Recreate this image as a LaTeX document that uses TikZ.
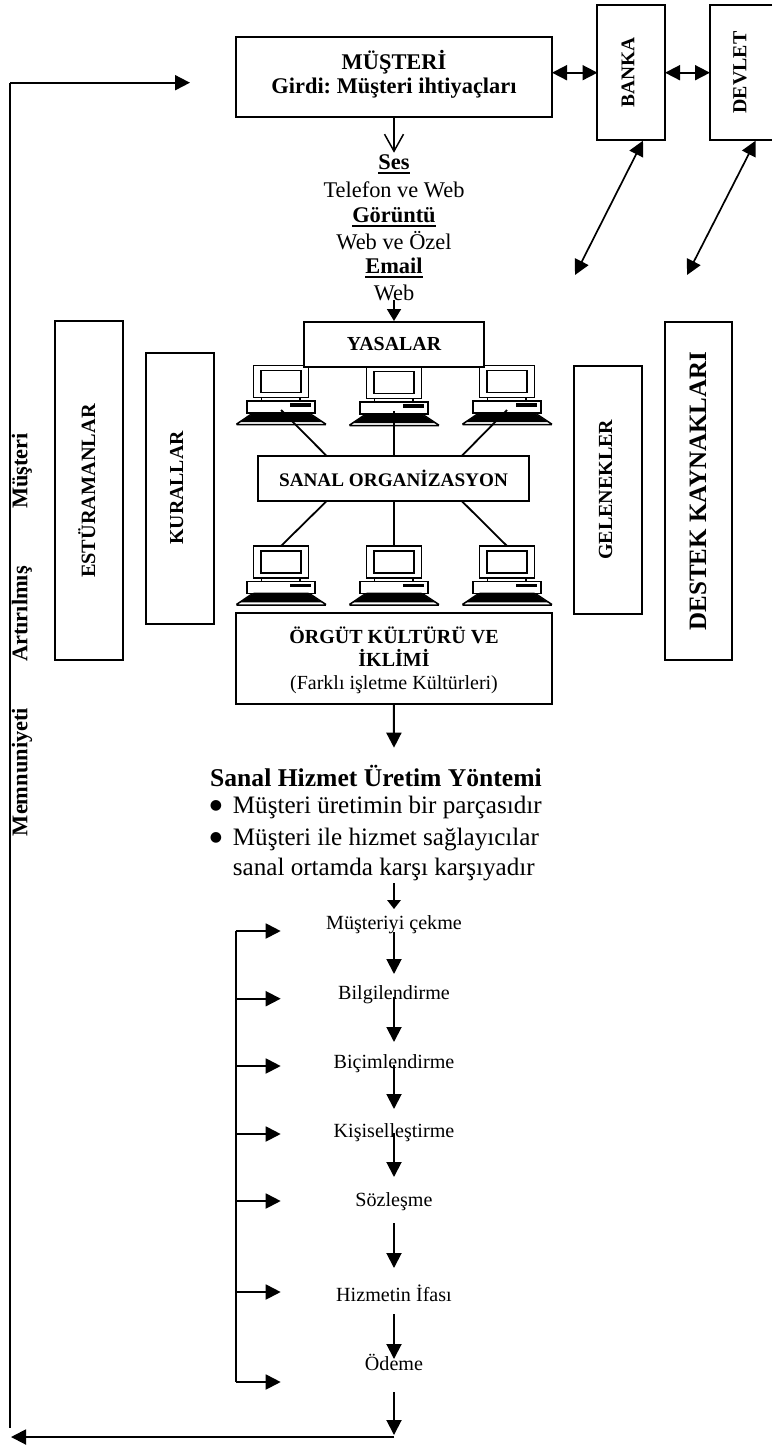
\documentclass[tikz,border=0pt]{standalone}
\usepackage{fontspec}
\setmainfont{Liberation Serif}
\newfontfamily\symfont{DejaVu Sans}
\usetikzlibrary{arrows.meta}
\newcommand{\fz}[1]{\fontsize{#1}{#1}\selectfont}
\newcommand{\ub}[1]{\leavevmode\vtop{\hbox{#1}\kern2.2pt\hrule height 1.9pt}}
\tikzset{
  box/.style={draw=black,line width=2pt,fill=white,inner sep=0pt,align=center},
  lbl/.style={inner sep=0pt,align=center,yshift=-2.5pt},
  vlbl/.style={inner sep=0pt,rotate=90,font=\bfseries},
  link/.style={line width=1.8pt,line cap=butt},
  arr/.style={line width=1.9pt,-{Triangle[length=15pt,width=15pt]}},
  smallarr/.style={line width=1.9pt,-{Triangle[length=9pt,width=13.5pt]}},
  dblarr/.style={line width=1.7pt,{Triangle[length=15pt,width=15pt]}-{Triangle[length=15pt,width=15pt]}},
  openarr/.style={line width=1.5pt,-{Straight Barb[length=17pt,width=19pt,line width=1.5pt]}},
  computer/.pic={
    \draw[line width=1.5pt] (-27.7,0) rectangle (27.7,32);
    \draw[line width=1.5pt] (-20,5) rectangle (20,27);
    \draw[line width=1.5pt] (-19.3,32) -- (-19.3,35.3) (19,32) -- (19,35.3);
    \draw[line width=1.5pt] (-34,35.3) rectangle (34,47.3);
    \fill (9,37.6) rectangle (30,41);
    \draw[line width=1.5pt,fill=white,rounded corners=1.5pt] (-28,47.3) -- (28,47.3) -- (45.7,59) -- (-45.3,59) -- cycle;
    \fill (-27,47.3) -- (27,47.3) -- (41,56.4) -- (-41,56.4) -- cycle;
    \coordinate (-hook) at (0,44.3);
    \coordinate (-top) at (0,0);
  }
}
\begin{document}
\frenchspacing
\begin{tikzpicture}[x=1pt,y=-1pt]
\useasboundingbox (0,0) rectangle (772,1446);
% computers
\pic (c1) at (281,365.7) {computer};
\pic (c2) at (394,366.7) {computer};
\pic (c3) at (507,365.7) {computer};
\pic (c4) at (281,546) {computer};
\pic (c5) at (394,546) {computer};
\pic (c6) at (507,546) {computer};
% boxes
\node[box,minimum width=316pt,minimum height=80pt] (musteri) at (394,77) {};
\node[lbl,font=\fz{22.4}\bfseries] (musteriA) at (394,60.7) {MÜŞTERİ\strut};
\node[lbl,font=\fz{22.4}\bfseries] (musteriB) at (394,87) {Girdi: Müşteri ihtiyaçları\strut};
\node[box,minimum width=67.5pt,minimum height=135.5pt] (banka) at (631.2,72.5) {};
\node[vlbl,font=\fz{19.4}\bfseries] at (628,72.5) (bankaT) {BANKA};
\node[minimum width=62pt,minimum height=135.5pt,inner sep=0pt] (devlet) at (741,72.5) {};
\draw[line width=2pt] (devlet.north east) -- (devlet.north west) -- (devlet.south west) -- (devlet.south east);
\node[vlbl,font=\fz{19.9}\bfseries] at (740,72.5) (devletT) {DEVLET};
\node[box,minimum width=180.5pt,minimum height=45pt,font=\fz{19.9}\bfseries] (yasalar) at (394,344.5) {YASALAR};
\node[box,minimum width=271pt,minimum height=45pt,font=\fz{19.2}\bfseries] (sanal) at (393.5,478.5) {SANAL ORGANİZASYON};
\node[box,minimum width=67.5pt,minimum height=339pt] (est) at (89.2,490.5) {};
\node[vlbl,font=\fz{20.3}\bfseries] (estT) at (86.7,491) {ESTÜRAMANLAR};
\node[box,minimum width=68pt,minimum height=271pt] (kur) at (179.5,488.5) {};
\node[vlbl,font=\fz{19.8}\bfseries] (kurT) at (176.7,488) {KURALLAR};
\node[box,minimum width=68pt,minimum height=248pt] (gel) at (608,489.8) {};
\node[vlbl,font=\fz{20}\bfseries] (gelT) at (605.7,489.7) {GELENEKLER};
\node[box,minimum width=67.5pt,minimum height=338pt] (destek) at (698.3,491) {};
\node[vlbl,font=\fz{25}\bfseries] (destekT) at (698,491) {DESTEK KAYNAKLARI};
\node[box,minimum width=316pt,minimum height=91pt] (orgut) at (393.8,658.5) {};
\node[lbl,font=\fz{20}\bfseries] (orgutA) at (394,635.7) {ÖRGÜT KÜLTÜRÜ VE\strut};
\node[lbl,font=\fz{20}\bfseries] (orgutB) at (394,658) {İKLİMİ\strut};
\node[lbl,font=\fz{20}] (orgutC) at (394,683) {(Farklı işletme Kültürleri)\strut};
% channel text
\node[lbl,font=\fz{22.4}\bfseries] (t1) at (394,163) {\ub{Ses}\strut};
\node[lbl,font=\fz{22.4}] (t2) at (394,190) {Telefon ve Web\strut};
\node[lbl,font=\fz{22.4}\bfseries] (t3) at (394,216) {\ub{Görüntü}\strut};
\node[lbl,font=\fz{22.4}] (t4) at (394,241) {Web ve Özel\strut};
\node[lbl,font=\fz{22.4}\bfseries] (t5) at (394,267) {\ub{Email}\strut};
\node[lbl,font=\fz{22.4}] (t6) at (394,294) {Web\strut};
% left rotated text
\node[inner sep=0pt,rotate=90,font=\fz{22.4}\bfseries] (m1) at (23,471) {Müşteri\strut};
\node[inner sep=0pt,rotate=90,font=\fz{22.4}\bfseries] (m2) at (23,614) {Artırılmış\strut};
\node[inner sep=0pt,rotate=90,font=\fz{22.4}\bfseries] (m3) at (23,772) {Memnuniyeti\strut};
% method text
\node[lbl,anchor=west,font=\fz{25.6}\bfseries] (h1) at (210,777) {Sanal Hizmet Üretim Yöntemi\strut};
\node[inner sep=0pt,font=\fz{14}\symfont] (b1) at (216,806) {●};
\node[lbl,anchor=west,font=\fz{25.1}] (h2) at (232.7,806) {Müşteri üretimin bir parçasıdır\strut};
\node[inner sep=0pt,font=\fz{14}\symfont] (b2) at (216,838) {●};
\node[lbl,anchor=west,font=\fz{25.1}] (h3) at (232.7,838) {Müşteri ile hizmet sağlayıcılar\strut};
\node[lbl,anchor=west,font=\fz{25.1}] (h4) at (232.7,868) {sanal ortamda karşı karşıyadır\strut};
% steps
\node[lbl,font=\fz{20.1}] (s1) at (394,923) {Müşteriyi çekme\strut};
\node[lbl,font=\fz{20.1}] (s2) at (394,993) {Bilgilendirme\strut};
\node[lbl,font=\fz{20.1}] (s3) at (394,1062) {Biçimlendirme\strut};
\node[lbl,font=\fz{20.1}] (s4) at (394,1131) {Kişiselleştirme\strut};
\node[lbl,font=\fz{20.1}] (s5) at (394,1200) {Sözleşme\strut};
\node[lbl,font=\fz{20.1}] (s6) at (394,1294) {Hizmetin İfası\strut};
\node[lbl,font=\fz{20.1}] (s7) at (394,1363) {Ödeme\strut};
% connector end points
\coordinate (fbTop) at (10,82.7);
\coordinate (fbIn) at (190,82.7);
\coordinate (fbBot) at (10,1428);
\coordinate (retR) at (394,1437);
\coordinate (retL) at (11,1437);
\coordinate (openEnd) at (394,152.7);
\coordinate (yIn1) at (394,300);
\coordinate (mR) at (552,72.7);
\coordinate (bL) at (597.5,72.7);
\coordinate (bR) at (665,72.7);
\coordinate (dL) at (710,72.7);
\coordinate (bT) at (643,140.7);
\coordinate (bB) at (575,275);
\coordinate (dT) at (755.6,140.7);
\coordinate (dB) at (687,275);
\coordinate (oEnd) at (394,747.7);
\coordinate (sanN1) at (326.7,456);
\coordinate (sanN2) at (394,456);
\coordinate (sanN3) at (461.7,456);
\coordinate (sanS1) at (326.7,501);
\coordinate (sanS2) at (394,501);
\coordinate (sanS3) at (461.7,501);
% connectors
\draw[arr] (fbTop) -- (fbIn);
\draw[link] (fbTop) -- (fbBot);
\draw[arr] (retR) -- (retL);
\draw[dblarr] (mR) -- (bL);
\draw[dblarr] (bR) -- (dL);
\draw[dblarr] (bT) -- (bB);
\draw[dblarr] (dT) -- (dB);
\draw[openarr] (musteri.south) -- (openEnd);
\draw[arr,-{Triangle[length=12pt,width=14pt]}] (yIn1) -- (yasalar.north);
\draw[link] (c1-hook) -- (sanN1);
\draw[link] (c2-hook) -- (sanN2);
\draw[link] (c3-hook) -- (sanN3);
\draw[link] (sanS1) -- (c4-top);
\draw[link] (sanS2) -- (c5-top);
\draw[link] (sanS3) -- (c6-top);
\draw[arr] (orgut.south) -- (oEnd);
% flow arrows
\foreach \i/\a/\b in {1/883/909,2/932/974,3/997/1042,4/1065/1109,5/1133/1177,6/1223/1268,7/1314/1359,8/1392/1435}{
  \coordinate (fa\i) at (394,\a);
  \coordinate (fb\i) at (394,\b);
}
\draw[smallarr] (fa1) -- (fb1);
\foreach \i in {2,...,8}{\draw[arr] (fa\i) -- (fb\i);}
% bracket
\coordinate (brT) at (235.7,931);
\coordinate (brB) at (235.7,1382);
\draw[link] (brT) -- (brB);
\foreach \i/\y in {1/931,2/998.7,3/1066,4/1134,5/1201,6/1292,7/1382}{
  \coordinate (brA\i) at (235.7,\y);
  \coordinate (brZ\i) at (280.7,\y);
  \draw[arr] (brA\i) -- (brZ\i);
}
\end{tikzpicture}
\end{document}
